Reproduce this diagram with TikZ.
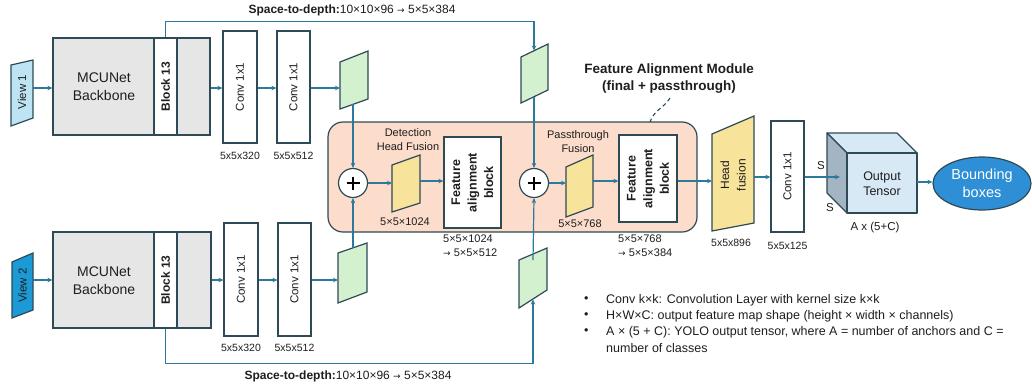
\documentclass[tikz,border=0pt]{standalone}
\usepackage{fontspec}
\setmainfont{Liberation Sans}
\newfontfamily\dv{DejaVu Sans}
\usetikzlibrary{arrows.meta,shapes.geometric}
\definecolor{ln}{HTML}{2B7A9B}
\definecolor{bd}{HTML}{2E4A57}
\definecolor{gry}{HTML}{E6E6E6}
\definecolor{vone}{HTML}{BEE3F2}
\definecolor{vtwo}{HTML}{1C9AD6}
\definecolor{grn}{HTML}{D3F0CF}
\definecolor{yel}{HTML}{F7E39A}
\definecolor{fam}{HTML}{FCDCCB}
\definecolor{cubef}{HTML}{D8E9F6}
\definecolor{cubes}{HTML}{A3B4C2}
\definecolor{ell}{HTML}{2E8FD6}
\definecolor{txt}{HTML}{1E1E1E}
\newcommand{\ar}{{\dv\fontsize{9}{9}\selectfont →}}
\begin{document}
\begin{tikzpicture}[x=1pt,y=-1pt,
  every node/.style={text=txt, inner sep=0pt},
  box/.style={draw=bd, line width=1.2pt, fill=white},
  shp/.style={draw=bd, line width=1.2pt},
  arr/.style={draw=ln, line width=1.2pt, -{Stealth[length=5pt,width=4.5pt]}},
  lnk/.style={draw=ln, line width=1.2pt},
  ftxt/.style={font=\fontsize{11.5}{13}\selectfont},
  dims/.style={font=\fontsize{10.5}{12}\selectfont},
  fab/.style={font=\fontsize{12.5}{16.5}\selectfont\bfseries, align=center, rotate=90},
  plus/.style={circle, draw=bd, line width=1.2pt, fill=white, minimum size=29},
  leg/.style={font=\fontsize{12.5}{15}\selectfont, anchor=west}
]
\useasboundingbox (0,0) rectangle (1032,386);

% ---------- View 1 branch ----------
\coordinate (v1a) at (11,65); \coordinate (v1b) at (33,60);
\coordinate (v1c) at (33,118); \coordinate (v1d) at (11,126);
\draw[shp, fill=vone] (v1a) -- (v1b) -- (v1c) -- (v1d) -- cycle;
\node[ftxt, rotate=90] (v1t) at (22,92) {View 1};
\coordinate (v1o) at (33,88);

\node[box, fill=gry, minimum width=157, minimum height=97] (mcu1) at (131.5,86.5) {};
\node[box, minimum width=23, minimum height=97] (blk1) at (165.5,86.5) {};
\node[font=\fontsize{12}{14}\selectfont\bfseries, rotate=90] at (blk1) {Block 13};
\node[font=\fontsize{14}{18}\selectfont, align=center] (mcu1t) at (104,87) {MCUNet\\Backbone};

\node[box, minimum width=34, minimum height=112] (c11) at (240,87) {};
\node[ftxt, rotate=90] at (c11) {Conv 1x1};
\node[box, minimum width=33, minimum height=112] (c12) at (293.5,87) {};
\node[ftxt, rotate=90] at (c12) {Conv 1x1};
\node[dims] (d11) at (240,156) {5x5x320};
\node[dims] (d12) at (293.5,156) {5x5x512};

\draw[arr] (v1o) -- (mcu1.west |- v1o);
\draw[arr] (mcu1.east |- v1o) -- (c11.west |- v1o);
\draw[arr] (c11.east |- v1o) -- (c12.west |- v1o);

% green 1 (top)
\coordinate (g1a) at (340,62); \coordinate (g1b) at (368,51);
\coordinate (g1c) at (368,99); \coordinate (g1d) at (340,109);
\draw[shp, fill=grn] (g1a) -- (g1b) -- (g1c) -- (g1d) -- cycle;
\draw[arr] (c12.east |- v1o) -- (g1a |- v1o);
\coordinate (g1o) at (353,104);

% green 2 (top passthrough)
\coordinate (g2a) at (521,57); \coordinate (g2b) at (548,44);
\coordinate (g2c) at (548,90); \coordinate (g2d) at (521,103);
\draw[shp, fill=grn] (g2a) -- (g2b) -- (g2c) -- (g2d) -- cycle;
\coordinate (g2i) at (534,50.5);
\coordinate (g2o) at (534,96.5);
\draw[arr] (blk1.north) -- ++(0,-16) -| (g2i);
\node[font=\fontsize{12}{14}\selectfont] (std1) at (352,10) {\textbf{Space-to-depth:}10×10×96 \ar{} 5×5×384};

% ---------- View 2 branch ----------
\coordinate (v2a) at (12,262); \coordinate (v2b) at (33,253);
\coordinate (v2c) at (33,310); \coordinate (v2d) at (12,318);
\draw[shp, fill=vtwo] (v2a) -- (v2b) -- (v2c) -- (v2d) -- cycle;
\node[ftxt, rotate=90] (v2t) at (22.5,285.5) {View 2};
\coordinate (v2o) at (33,280);

\node[box, fill=gry, minimum width=158, minimum height=96] (mcu2) at (132,280) {};
\node[box, minimum width=23, minimum height=96] (blk2) at (165.5,280) {};
\node[font=\fontsize{12}{14}\selectfont\bfseries, rotate=90] at (blk2) {Block 13};
\node[font=\fontsize{14}{18}\selectfont, align=center] (mcu2t) at (104,281) {MCUNet\\Backbone};

\node[box, minimum width=34, minimum height=113] (c21) at (241,279.5) {};
\node[ftxt, rotate=90] at (c21) {Conv 1x1};
\node[box, minimum width=33, minimum height=113] (c22) at (294.5,279.5) {};
\node[ftxt, rotate=90] at (c22) {Conv 1x1};
\node[dims] (d21) at (241,348) {5x5x320};
\node[dims] (d22) at (294.5,348) {5x5x512};

\draw[arr] (v2o) -- (mcu2.west |- v2o);
\draw[arr] (mcu2.east |- v2o) -- (c21.west |- v2o);
\draw[arr] (c21.east |- v2o) -- (c22.west |- v2o);

% green 3 (bottom)
\coordinate (g3a) at (338,253); \coordinate (g3b) at (367,243);
\coordinate (g3c) at (367,292); \coordinate (g3d) at (338,303);
\draw[shp, fill=grn] (g3a) -- (g3b) -- (g3c) -- (g3d) -- cycle;
\draw[arr] (c22.east |- v2o) -- (g3a |- v2o);
\coordinate (g3o) at (353,248);

% green 4 (bottom passthrough)
\coordinate (g4a) at (519,260); \coordinate (g4b) at (547,248);
\coordinate (g4c) at (547,290); \coordinate (g4d) at (519,308);
\draw[shp, fill=grn] (g4a) -- (g4b) -- (g4c) -- (g4d) -- cycle;
\coordinate (g4i) at (533,299.5);
\coordinate (g4o) at (533,254);
\draw[arr] (blk2.south) -- ++(0,35) -| (g4i);
\node[font=\fontsize{12}{14}\selectfont] (std2) at (348,376) {\textbf{Space-to-depth:}10×10×96 \ar{} 5×5×384};

% ---------- Feature Alignment Module ----------
\node[draw=bd, line width=1.2pt, fill=fam, rounded corners=15, minimum width=369, minimum height=110] (famb) at (512.5,177) {};
\node[font=\fontsize{13.5}{17}\selectfont\bfseries, align=center] (famt) at (669,79) {Feature Alignment Module\\(final + passthrough)};
\coordinate (dsa) at (670,98); \coordinate (dsb) at (650,122);
\draw[bd, line width=1.1pt, dashed, dash pattern=on 4pt off 3pt] (dsa) .. controls (664,108) and (654,110) .. (dsb);

\node[plus] (p1) at (353,183) {};
\draw[line width=2.4pt, black] (p1.center) ++(-6.5,0) -- ++(13,0);
\draw[line width=2.4pt, black] (p1.center) ++(0,-6.5) -- ++(0,13);
\node[plus] (p2) at (534,183) {};
\draw[line width=2.4pt, black] (p2.center) ++(-6.5,0) -- ++(13,0);
\draw[line width=2.4pt, black] (p2.center) ++(0,-6.5) -- ++(0,13);

\draw[arr] (g1o) -- (p1.north);
\draw[arr] (g3o) -- (p1.south);
\draw[arr] (g2o) -- (p2.north);
\draw[arr] (g4o |- g4a) -- (p2.south);

\node[font=\fontsize{11}{14}\selectfont, align=center] (dhf) at (408,140) {Detection\\Head Fusion};
\coordinate (y1a) at (392,165); \coordinate (y1b) at (420,155);
\coordinate (y1c) at (420,203); \coordinate (y1d) at (392,212);
\draw[shp, fill=yel] (y1a) -- (y1b) -- (y1c) -- (y1d) -- cycle;
\draw[arr] (p1.east) -- (y1a |- p1);
\node[font=\fontsize{11}{13}\selectfont] (y1l) at (405,222) {5×5×1024};

\node[box, minimum width=57, minimum height=91] (fab1) at (472.5,182.5) {};
\node[fab] at (fab1) {Feature\\alignment\\block};
\draw[arr] (420,181) -- (fab1.west |- 0,181);
\node[font=\fontsize{11}{14}\selectfont, align=left, anchor=north west] (fab1l) at (443,235) {5×5×1024\\\ar{} 5×5×512};

\node[font=\fontsize{11}{14}\selectfont, align=center] (ptf) at (578,142) {Passthrough\\Fusion};
\coordinate (y2a) at (566,167); \coordinate (y2b) at (593,155);
\coordinate (y2c) at (593,207); \coordinate (y2d) at (566,217);
\draw[shp, fill=yel] (y2a) -- (y2b) -- (y2c) -- (y2d) -- cycle;
\draw[arr] (p2.east) -- (y2a |- p2);
\node[font=\fontsize{11}{13}\selectfont] (y2l) at (580,224) {5×5×768};

\node[box, minimum width=58, minimum height=87] (fab2) at (648,178.5) {};
\node[fab] at (fab2) {Feature\\alignment\\block};
\draw[arr] (593,181) -- (fab2.west |- 0,181);
\node[font=\fontsize{11}{14}\selectfont, align=left, anchor=north west] (fab2l) at (618,235) {5×5×768\\\ar{} 5×5×384};

% ---------- Head ----------
\coordinate (hfa) at (712,134); \coordinate (hfb) at (754,116);
\coordinate (hfc) at (754,223); \coordinate (hfd) at (712,231);
\draw[shp, fill=yel] (hfa) -- (hfb) -- (hfc) -- (hfd) -- cycle;
\node[font=\fontsize{12}{16.5}\selectfont, align=center, rotate=90] (hft) at (733,175) {Head\\fusion};
\node[dims] (hfl) at (731,243) {5x5x896};
\draw[arr] (fab2.east |- 0,181) -- (hfa |- 0,181);

\node[box, minimum width=33, minimum height=111] (c3) at (787.5,176.5) {};
\node[ftxt, rotate=90] at (c3) {Conv 1x1};
\node[dims] (c3l) at (787.5,246) {5x5x125};
\draw[arr] (754,177) -- (c3.west |- 0,177);

% cube
\coordinate (cf1) at (847,153); \coordinate (cf2) at (917,153);
\coordinate (cf3) at (917,213); \coordinate (cf4) at (847,213);
\coordinate (cb1) at (827,133); \coordinate (cb2) at (897,133);
\coordinate (cb4) at (827,193);
\draw[shp, fill=cubef, line join=round] (cb1) -- (cb2) -- (cf2) -- (cf1) -- cycle;
\draw[shp, fill=cubes, line join=round] (cb1) -- (cf1) -- (cf4) -- (cb4) -- cycle;
\draw[shp, fill=cubef, line join=round] (cf1) -- (cf2) -- (cf3) -- (cf4) -- cycle;
\node[font=\fontsize{12.5}{15}\selectfont, align=center] (outt) at (882,184) {Output\\Tensor};
\node[ftxt] (s1) at (821,166) {S};
\node[ftxt] (s2) at (830,208) {S};
\node[ftxt] (axc) at (875,228) {A x (5+C)};
\coordinate (cin) at (840,177);
\draw[arr] (c3.east |- cin) -- (cin);

\node[ellipse, draw=bd, line width=1.2pt, fill=ell, minimum width=98, minimum height=53,
      font=\fontsize{14.5}{17.5}\selectfont, text=white, align=center] (bb) at (982,183.5) {Bounding\\boxes};
\draw[arr] (917,182) -- (bb.west |- 0,182);

% ---------- legend ----------
\foreach \yy in {300,316,332} { \node[leg] at (584,\yy) {•}; }
\node[leg] (l1) at (606,300) {Conv k×k: Convolution Layer with kernel size k×k};
\node[leg] (l2) at (606,316) {H×W×C: output feature map shape (height × width × channels)};
\node[leg] (l3) at (606,332) {A × (5 + C): YOLO output tensor, where A = number of anchors and C =};
\node[leg] (l4) at (606,348) {number of classes};
\end{tikzpicture}
\end{document}
